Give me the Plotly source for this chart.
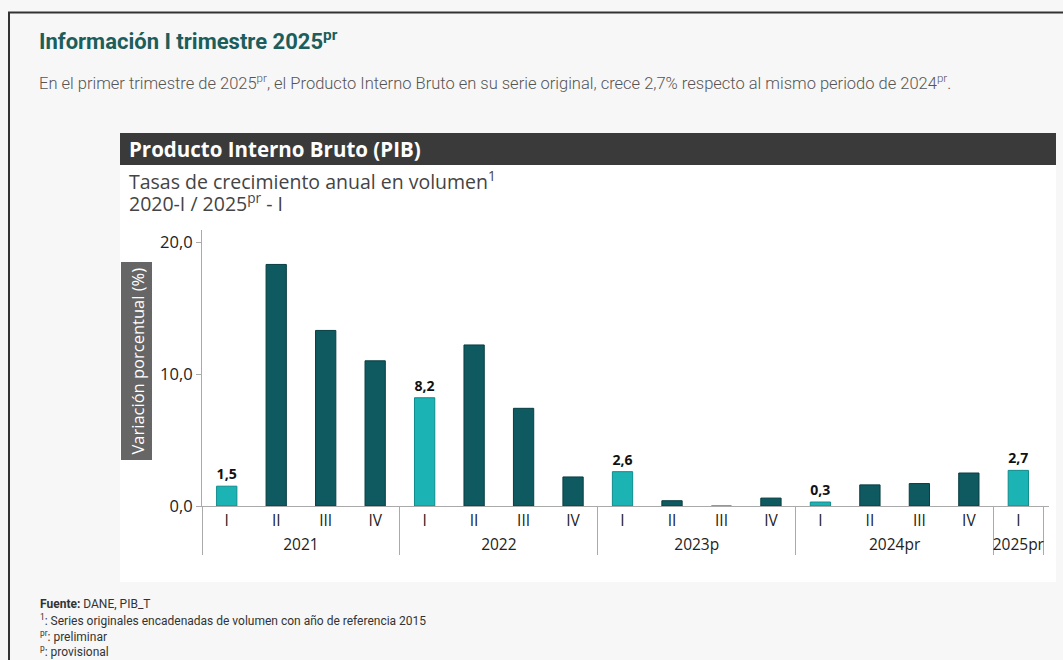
import plotly.graph_objects as go

# Data
years = ["2021"] * 4 + ["2022"] * 4 + ["2023p"] * 4 + ["2024pr"] * 4 + ["2025pr"]
quarters = ["I", "II", "III", "IV"] * 4 + ["I"]
growth = [1.5, 18.3, 13.3, 11.0,
          8.2, 12.2, 7.4, 2.2,
          2.6, 0.4, -0.1, 0.6,
          0.3, 1.6, 1.7, 2.5,
          2.7]

W, H = 1063, 660
# plot area in window pixels
PL, PR, PT, PB = 202, 1049, 230, 506

LIGHT = "#1bb3b3"
DARK = "#0e5a60"
CHART_FONT = "Open Sans, DejaVu Sans, sans-serif"
NOTE_FONT = "Roboto, Arial, sans-serif"


def px(x):
    return (x - PL) / (PR - PL)


def py(y):
    return (PB - y) / (PB - PT)


colors = [LIGHT if q == "I" else DARK for q in quarters]
lines = ["#0e8c8c" if q == "I" else "#083e42" for q in quarters]
labels = [f"{v:.1f}".replace(".", ",") if q == "I" else "" for q, v in zip(quarters, growth)]

fig = go.Figure(go.Bar(
    x=[years, quarters],
    y=growth,
    width=0.41,
    marker=dict(color=colors, line=dict(color=lines, width=1)),
    text=labels,
    textposition="outside",
    textfont=dict(family=CHART_FONT, size=17, color="#111", weight="bold"),
    cliponaxis=False,
))

shapes = [
    # white chart card
    dict(type="rect", xref="paper", yref="paper", x0=px(120), x1=px(1056), y0=py(582), y1=py(133),
         fillcolor="white", line=dict(width=0), layer="below"),
    # dark header bar
    dict(type="rect", xref="paper", yref="paper", x0=px(120), x1=px(1056), y0=py(165), y1=py(133),
         fillcolor="#3a3a3a", line=dict(width=0), layer="below"),
    # y-axis title box
    dict(type="rect", xref="paper", yref="paper", x0=px(121), x1=px(152), y0=py(460), y1=py(262),
         fillcolor="#666666", line=dict(width=0), layer="below"),
    # page border (top and left)
    dict(type="line", xref="paper", yref="paper", x0=px(8), x1=px(1063), y0=py(12.5), y1=py(12.5),
         line=dict(color="#333", width=2)),
    dict(type="line", xref="paper", yref="paper", x0=px(9), x1=px(9), y0=py(12), y1=py(660),
         line=dict(color="#333", width=2)),
]

annotations = [
    dict(text="Información I trimestre 2025<sup>pr</sup>", x=px(37), y=py(40),
         font=dict(family="Roboto, sans-serif", size=22, color="#1b5e5b", weight="bold")),
    dict(text="En el primer trimestre de 2025<sup>pr</sup>, el Producto Interno Bruto en su serie original, "
              "crece 2,7% respecto al mismo periodo de 2024<sup>pr</sup>.",
         x=px(37), y=py(82), font=dict(family="Roboto, sans-serif", size=16.5, color="#555", weight=300)),
    dict(text="Producto Interno Bruto (PIB)", x=px(127), y=py(149),
         font=dict(family=CHART_FONT, size=20.5, color="white", weight="bold")),
    dict(text="Tasas de crecimiento anual en volumen<sup>1</sup>", x=px(127), y=py(180),
         font=dict(family=CHART_FONT, size=19.5, color="#444")),
    dict(text="2020-I / 2025<sup>pr</sup> - I", x=px(127), y=py(202),
         font=dict(family=CHART_FONT, size=19.5, color="#444")),
    dict(text="Variación porcentual (%)", x=px(136.5), y=py(361), textangle=-90,
         xanchor="center", font=dict(family=CHART_FONT, size=16.5, color="white")),
    dict(text="<b>Fuente:</b> DANE, PIB_T", x=px(38), y=py(604),
         font=dict(family=NOTE_FONT, size=12, color="#333")),
    dict(text="<sup>1</sup>: Series originales encadenadas de volumen con año de referencia 2015",
         x=px(38), y=py(620), font=dict(family=NOTE_FONT, size=12, color="#333")),
    dict(text="<sup>pr</sup>: preliminar", x=px(38), y=py(636),
         font=dict(family=NOTE_FONT, size=12, color="#333")),
    dict(text="<sup>p</sup>: provisional", x=px(38), y=py(651),
         font=dict(family=NOTE_FONT, size=12, color="#333")),
]
for a in annotations:
    a.setdefault("xanchor", "left")
    a.update(xref="paper", yref="paper", yanchor="middle", showarrow=False)

fig.update_layout(
    width=W, height=H,
    margin=dict(l=PL, r=W - PR, t=PT, b=H - PB, pad=0),
    paper_bgcolor="#f7f7f7",
    plot_bgcolor="white",
    separators=",.",
    showlegend=False,
    shapes=shapes,
    annotations=annotations,
    font=dict(family=CHART_FONT, color="#333"),
)
fig.update_yaxes(
    range=[0, (PB - PT) / 13.2],
    tickvals=[0, 10, 20],
    tickformat=".1f",
    showgrid=False, zeroline=False,
    showline=True, linecolor="#aaa", linewidth=1,
    ticks="outside", ticklen=5, tickcolor="#aaa",
    tickfont=dict(family=CHART_FONT, size=16.5, color="#222"),
)
fig.update_xaxes(
    type="multicategory",
    range=[-0.5, 16.62],
    showgrid=False,
    showline=True, linecolor="#aaa", linewidth=1,
    showdividers=True, dividercolor="#aaa", dividerwidth=1,
    ticks="", tickfont=dict(family=CHART_FONT, size=15.5, color="#222"),
)

# drop the default body margin so the figure fills the window exactly
fig.write_html("out.html", config={"displayModeBar": False},
               post_script="document.body.style.margin = '0';")
